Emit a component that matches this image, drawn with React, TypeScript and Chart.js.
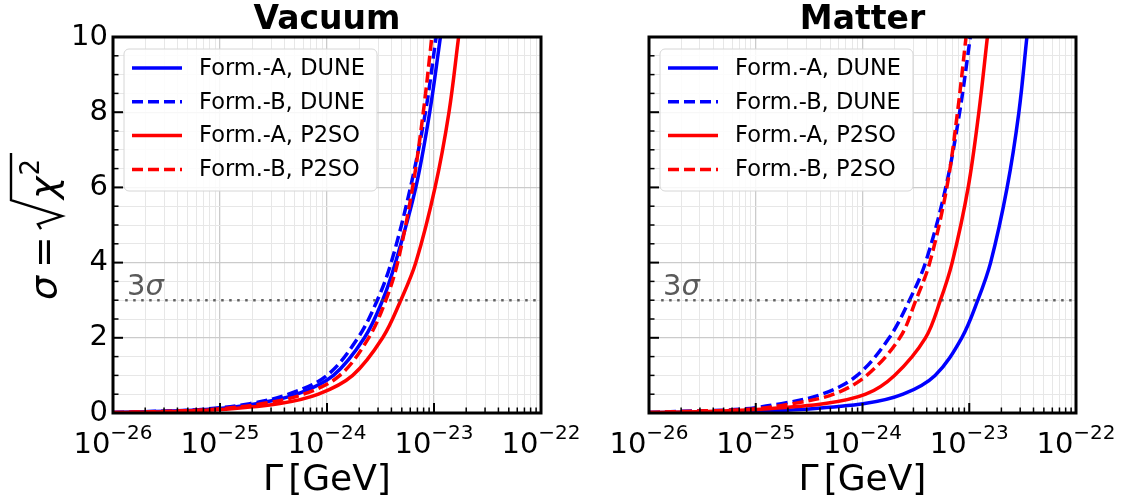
import React, { useEffect, useRef } from "react";
import { Chart, registerables } from "chart.js";

Chart.register(...registerables);

const W = 1126;
const H = 502;
const FONT = '"DejaVu Sans", "Noto Sans", sans-serif';

const SIGMA = [0.01, 0.04, 0.1, 0.25, 0.5, 1, 2, 3, 4, 6, 8, 10];

// log10(Gamma / GeV) of each curve at the SIGMA levels above
// Vacuum panel
const VAC_A_DUNE = [-26, -25.6, -25.1, -24.66, -24.28, -23.94, -23.65, -23.48, -23.36, -23.17, -23.04, -22.94];
const VAC_B_DUNE = [-26, -25.65, -25.15, -24.72, -24.36, -24.0, -23.71, -23.53, -23.4, -23.22, -23.08, -22.98];
const VAC_A_P2SO = [-26, -25.45, -24.95, -24.44, -24.08, -23.76, -23.48, -23.31, -23.17, -22.99, -22.86, -22.77];
const VAC_B_P2SO = [-26, -25.55, -25.05, -24.6, -24.22, -23.88, -23.61, -23.45, -23.34, -23.2, -23.1, -23.02];
// Matter panel
const MAT_A_DUNE = [-26, -25.1, -24.55, -23.98, -23.62, -23.32, -23.07, -22.92, -22.8, -22.645, -22.535, -22.46];
const MAT_B_DUNE = [-26, -25.75, -25.15, -24.76, -24.38, -24.05, -23.75, -23.56, -23.41, -23.22, -23.09, -22.99];
const MAT_A_P2SO = [-26, -25.5, -24.95, -24.35, -23.97, -23.7, -23.41, -23.27, -23.16, -23.01, -22.91, -22.83];
const MAT_B_P2SO = [-26, -25.7, -25.05, -24.65, -24.27, -23.96, -23.65, -23.5, -23.37, -23.21, -23.11, -23.03];

const SERIES_LABELS = ["Form.-A, DUNE", "Form.-B, DUNE", "Form.-A, P2SO", "Form.-B, P2SO"];
const SERIES_COLORS = ["#0000ff", "#0000ff", "#ff0000", "#ff0000"];
const SERIES_DASHED = [false, true, false, true];

// axes
const X_DECADES = [-26, -25, -24, -23, -22];
const X_MINOR_MULT = [2, 3, 4, 5, 6, 7, 8, 9];
const Y_TICKS = [0, 0.5, 1, 1.5, 2, 2.5, 3, 3.5, 4, 4.5, 5, 5.5, 6, 6.5, 7, 7.5, 8, 8.5, 9, 9.5, 10];
const Y_LABELS = [0, 2, 4, 6, 8, 10];
const THREE_SIGMA = 3;
const THREE_SIGMA_RANGE = [1.3e-26, 9.3e-23];

const MAJOR_GRID = "#cbcbcb";
const MINOR_GRID = "#e7e7e7";
const DASH = [11, 5];

function isDecade(v: number) {
  const l = Math.log10(v);
  return Math.abs(l - Math.round(l)) < 1e-6;
}

function xTickValues() {
  const out: number[] = [];
  X_DECADES.forEach((e, i) => {
    out.push(Math.pow(10, e));
    if (i < X_DECADES.length - 1) X_MINOR_MULT.forEach((m) => out.push(m * Math.pow(10, e)));
  });
  return out;
}

function makeDecor(title: string, isLeft: boolean) {
  return {
    id: "decor",
    afterDraw(chart: any) {
      const { ctx, chartArea: a, scales } = chart;
      const xs = scales.x;
      const ys = scales.y;
      ctx.save();

      // inward ticks
      ctx.strokeStyle = "#000";
      const vtick = (px: number, len: number, lw: number) => {
        ctx.lineWidth = lw;
        ctx.beginPath();
        ctx.moveTo(px, a.bottom);
        ctx.lineTo(px, a.bottom - len);
        ctx.stroke();
      };
      const htick = (py: number, len: number, lw: number) => {
        ctx.lineWidth = lw;
        ctx.beginPath();
        ctx.moveTo(a.left, py);
        ctx.lineTo(a.left + len, py);
        ctx.stroke();
      };
      xTickValues().forEach((v) => {
        const px = xs.getPixelForValue(v);
        if (isDecade(v)) vtick(px, 10, 2);
        else vtick(px, 5.5, 1.5);
      });
      Y_TICKS.forEach((v) => {
        const py = ys.getPixelForValue(v);
        if (Y_LABELS.includes(v)) htick(py, 10, 2);
        else htick(py, 5.5, 1.5);
      });

      // frame
      ctx.lineWidth = 3;
      ctx.strokeStyle = "#000";
      ctx.strokeRect(a.left, a.top, a.right - a.left, a.bottom - a.top);

      // legend
      const lx = a.left + 11;
      const ly = a.top + 12;
      const lw = 253;
      const lh = 142;
      ctx.beginPath();
      if ((ctx as any).roundRect) (ctx as any).roundRect(lx, ly, lw, lh, 5);
      else ctx.rect(lx, ly, lw, lh);
      ctx.fillStyle = "rgba(255,255,255,0.85)";
      ctx.fill();
      ctx.lineWidth = 1;
      ctx.strokeStyle = "#d6d6d6";
      ctx.stroke();
      ctx.font = `22.5px ${FONT}`;
      ctx.textBaseline = "middle";
      ctx.textAlign = "left";
      chart.data.datasets.slice(0, 4).forEach((ds: any, i: number) => {
        const cy = ly + 19 + i * 33.8;
        ctx.beginPath();
        ctx.setLineDash(ds.borderDash || []);
        ctx.strokeStyle = ds.borderColor;
        ctx.lineWidth = 3.5;
        ctx.moveTo(lx + 8, cy);
        ctx.lineTo(lx + 58, cy);
        ctx.stroke();
        ctx.setLineDash([]);
        ctx.fillStyle = "#000";
        ctx.fillText(ds.label, lx + 75, cy + 1);
      });

      // 3 sigma annotation
      ctx.fillStyle = "#5a5a5a";
      ctx.textBaseline = "alphabetic";
      ctx.font = `29px ${FONT}`;
      const tx = a.left + 14;
      const ty = ys.getPixelForValue(THREE_SIGMA) - 5;
      ctx.fillText("3", tx, ty);
      const w3 = ctx.measureText("3").width;
      ctx.font = `italic 29px ${FONT}`;
      ctx.fillText("σ", tx + w3, ty);

      // title
      ctx.fillStyle = "#000";
      ctx.font = `bold 33px ${FONT}`;
      ctx.textAlign = "center";
      ctx.fillText(title, (a.left + a.right) / 2, 29);

      // x tick labels 10^{-n}
      ctx.textAlign = "left";
      X_DECADES.forEach((e) => {
        const px = xs.getPixelForValue(Math.pow(10, e));
        const base = "10";
        const sup = "\u2212" + String(Math.abs(e));
        ctx.font = `29px ${FONT}`;
        const wb = ctx.measureText(base).width;
        ctx.font = `20px ${FONT}`;
        const ws = ctx.measureText(sup).width;
        const x0 = px - (wb + ws) / 2;
        ctx.font = `29px ${FONT}`;
        ctx.fillText(base, x0, 453);
        ctx.font = `20px ${FONT}`;
        ctx.fillText(sup, x0 + wb, 439);
      });

      // x axis label
      ctx.font = `36px ${FONT}`;
      const g = "Γ";
      const rest = "[GeV]";
      const wg = ctx.measureText(g).width;
      const wr = ctx.measureText(rest).width;
      const gap = 5;
      const xl = (a.left + a.right) / 2 - (wg + gap + wr) / 2;
      ctx.fillText(g, xl, 490);
      ctx.fillText(rest, xl + wg + gap, 490);

      // y axis label  sigma = sqrt(chi^2)
      if (isLeft) {
        ctx.save();
        ctx.translate(56, 300);
        ctx.rotate(-Math.PI / 2);
        ctx.fillStyle = "#000";
        ctx.textBaseline = "alphabetic";
        let u = 0;
        ctx.font = `italic 38px ${FONT}`;
        ctx.fillText("σ", u, 0);
        u += ctx.measureText("σ").width + 8;
        ctx.font = `38px ${FONT}`;
        ctx.fillText("=", u, 0);
        u += ctx.measureText("=").width + 7;
        const r0 = u;
        const rw = 29;
        ctx.font = `italic 38px ${FONT}`;
        const wchi = ctx.measureText("χ").width;
        ctx.font = `26px ${FONT}`;
        const w2 = ctx.measureText("2").width;
        const barEnd = r0 + rw + wchi + w2 + 8;
        ctx.strokeStyle = "#000";
        ctx.lineJoin = "miter";
        ctx.lineWidth = 2.4;
        ctx.beginPath();
        ctx.moveTo(r0, -15);
        ctx.lineTo(r0 + 5, -18);
        ctx.lineTo(r0 + 13, 6);
        ctx.lineTo(r0 + rw, -45);
        ctx.lineTo(barEnd, -45);
        ctx.stroke();
        ctx.font = `italic 38px ${FONT}`;
        ctx.fillText("χ", r0 + rw + 1, 0);
        ctx.font = `26px ${FONT}`;
        ctx.fillText("2", r0 + rw + 1 + wchi + 1, -17);
        ctx.restore();
      }

      ctx.restore();
    },
  };
}

function Panel({ title, curves, isLeft }: { title: string; curves: number[][]; isLeft: boolean }) {
  const ref = useRef<HTMLCanvasElement>(null);
  useEffect(() => {
    const canvas = ref.current;
    if (!canvas) return;
    const datasets: any[] = curves.map((logs, i) => ({
      label: SERIES_LABELS[i],
      data: logs.map((lg, k) => ({ x: Math.pow(10, lg), y: SIGMA[k] })),
      borderColor: SERIES_COLORS[i],
      backgroundColor: SERIES_COLORS[i],
      borderWidth: 3.5,
      borderDash: SERIES_DASHED[i] ? DASH : [],
      pointRadius: 0,
      pointHoverRadius: 0,
      tension: 0.35,
      cubicInterpolationMode: "default",
      fill: false,
      order: 10 - i,
    }));
    datasets.push({
      label: "3σ",
      data: THREE_SIGMA_RANGE.map((x) => ({ x, y: THREE_SIGMA })),
      borderColor: "rgba(70,70,70,0.85)",
      borderWidth: 2.5,
      borderDash: [2.5, 5.5],
      pointRadius: 0,
      tension: 0,
      fill: false,
      order: 0,
    });

    const chart = new Chart(canvas, {
      type: "line",
      data: { datasets },
      options: {
        indexAxis: "y",
        responsive: false,
        animation: false,
        events: [],
        layout: { padding: { left: 0, top: 37, right: isLeft ? 585 : 50, bottom: 0 } },
        plugins: {
          legend: { display: false },
          tooltip: { enabled: false },
          title: { display: false },
        },
        scales: {
          x: {
            type: "logarithmic",
            position: "bottom",
            min: 1e-26,
            max: 1e-22,
            afterBuildTicks: (s: any) => {
              s.ticks = xTickValues().map((v) => ({ value: v, major: isDecade(v) }));
            },
            afterFit: (s: any) => {
              s.height = 89;
            },
            ticks: { display: false, autoSkip: false },
            grid: {
              drawTicks: false,
              color: (c: any) => (c.tick && isDecade(c.tick.value) ? MAJOR_GRID : MINOR_GRID),
              lineWidth: (c: any) => (c.tick && isDecade(c.tick.value) ? 1.3 : 1),
            },
            border: { display: false },
          },
          y: {
            type: "linear",
            position: "left",
            min: 0,
            max: 10,
            reverse: false,
            afterBuildTicks: (s: any) => {
              s.ticks = Y_TICKS.map((v) => ({ value: v }));
            },
            afterFit: (s: any) => {
              s.width = isLeft ? 113 : 649;
            },
            ticks: {
              display: isLeft,
              autoSkip: false,
              padding: 5,
              color: "#000",
              font: { family: FONT, size: 29 },
              callback: (v: any) => (Y_LABELS.includes(Number(v)) ? String(v) : ""),
            },
            grid: {
              drawTicks: false,
              color: (c: any) => (c.tick && Y_LABELS.includes(c.tick.value) ? MAJOR_GRID : MINOR_GRID),
              lineWidth: (c: any) => (c.tick && Y_LABELS.includes(c.tick.value) ? 1.3 : 1),
            },
            border: { display: false },
          },
        },
      } as any,
      plugins: [makeDecor(title, isLeft)],
    });
    return () => chart.destroy();
  }, []);
  return (
    <canvas
      ref={ref}
      width={W}
      height={H}
      style={{ position: "absolute", left: 0, top: 0, width: W, height: H }}
    />
  );
}

export default function App() {
  return (
    <div
      style={{
        position: "fixed",
        left: 0,
        top: 0,
        width: W,
        height: H,
        background: "#ffffff",
        overflow: "hidden",
      }}
    >
      <Panel title="Vacuum" curves={[VAC_A_DUNE, VAC_B_DUNE, VAC_A_P2SO, VAC_B_P2SO]} isLeft={true} />
      <Panel title="Matter" curves={[MAT_A_DUNE, MAT_B_DUNE, MAT_A_P2SO, MAT_B_P2SO]} isLeft={false} />
    </div>
  );
}
